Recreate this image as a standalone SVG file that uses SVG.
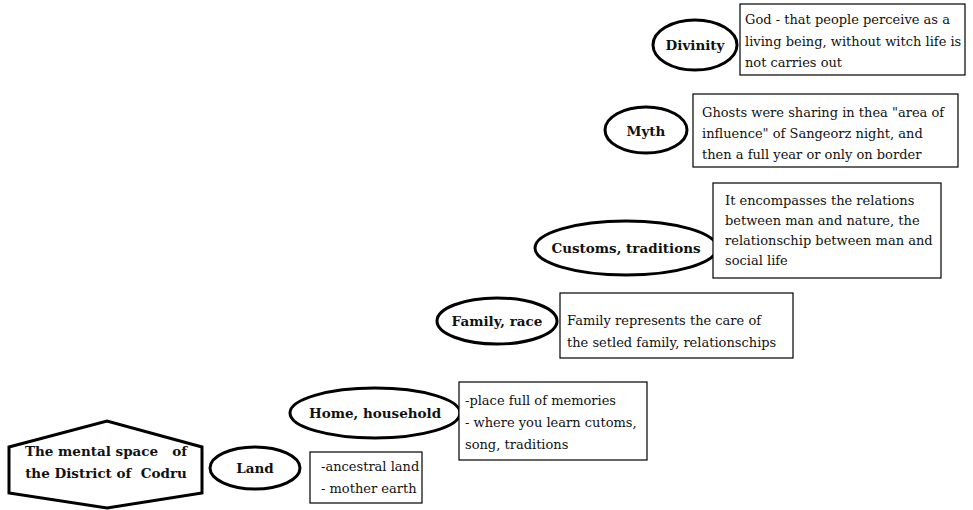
<svg xmlns="http://www.w3.org/2000/svg" width="973" height="510" viewBox="0 0 973 510">
<style>
.bg{fill:#fff}
.oval{fill:#fff;stroke:#000;stroke-width:3}
.hex{fill:#fff;stroke:#000;stroke-width:3;stroke-linejoin:miter}
.box{fill:#fff;stroke:#000;stroke-width:1.2}
.lbl{font-family:"DejaVu Serif","Liberation Serif",serif;font-weight:bold;font-size:13.5px;fill:#111;text-anchor:middle;white-space:pre}
.txt{font-family:"DejaVu Serif","Liberation Serif",serif;font-size:13px;fill:#111;white-space:pre}
</style>
<rect class="bg" x="0" y="0" width="973" height="510"/>
<g id="connectors"></g>
<g id="root">
<polygon class="hex" points="9,447 107,421 202,447 202,493 107,508 9,493"/>
<text class="lbl" x="106" y="456" xml:space="preserve">The mental space   of</text>
<text class="lbl" x="106" y="478" xml:space="preserve">the District of  Codru</text>
</g>
<g id="land">
<ellipse class="oval" cx="255" cy="468" rx="45" ry="21"/>
<text class="lbl" x="255" y="473">Land</text>
</g>
<g id="land-note">
<rect class="box" x="310" y="452" width="112" height="51"/>
<text class="txt" x="321" y="471">-ancestral land</text>
<text class="txt" x="321" y="493">- mother earth</text>
</g>
<g id="home">
<ellipse class="oval" cx="375" cy="413" rx="85" ry="25"/>
<text class="lbl" x="375" y="418">Home, household</text>
</g>
<g id="home-note">
<rect class="box" x="459" y="382" width="188" height="78"/>
<text class="txt" x="465" y="405">-place full of memories</text>
<text class="txt" x="465" y="427">- where you learn cutoms,</text>
<text class="txt" x="465" y="449">song, traditions</text>
</g>
<g id="family">
<ellipse class="oval" cx="497" cy="321" rx="60" ry="23"/>
<text class="lbl" x="497" y="326">Family, race</text>
</g>
<g id="family-note">
<rect class="box" x="560" y="293" width="233" height="65"/>
<text class="txt" x="567" y="325">Family represents the care of</text>
<text class="txt" x="567" y="347">the setled family, relationschips</text>
</g>
<g id="customs">
<ellipse class="oval" cx="626" cy="248" rx="91" ry="27"/>
<text class="lbl" x="626" y="253">Customs, traditions</text>
</g>
<g id="customs-note">
<rect class="box" x="713" y="183" width="228" height="95"/>
<text class="txt" x="725" y="205">It encompasses the relations</text>
<text class="txt" x="725" y="225">between man and nature, the</text>
<text class="txt" x="725" y="245">relationschip between man and</text>
<text class="txt" x="725" y="265">social life</text>
</g>
<g id="myth">
<ellipse class="oval" cx="646" cy="130" rx="41" ry="23"/>
<text class="lbl" x="646" y="136">Myth</text>
</g>
<g id="myth-note">
<rect class="box" x="693" y="94" width="265" height="73"/>
<text class="txt" x="702" y="117">Ghosts were sharing in thea "area of</text>
<text class="txt" x="702" y="138">influence" of Sangeorz night, and</text>
<text class="txt" x="702" y="159">then a full year or only on border</text>
</g>
<g id="divinity">
<ellipse class="oval" cx="695" cy="45" rx="42" ry="25"/>
<text class="lbl" x="695" y="50">Divinity</text>
</g>
<g id="divinity-note">
<rect class="box" x="740" y="4" width="225" height="71"/>
<text class="txt" x="745" y="24">God - that people perceive as a</text>
<text class="txt" x="745" y="46">living being, without witch life is</text>
<text class="txt" x="745" y="67">not carries out</text>
</g>
</svg>
